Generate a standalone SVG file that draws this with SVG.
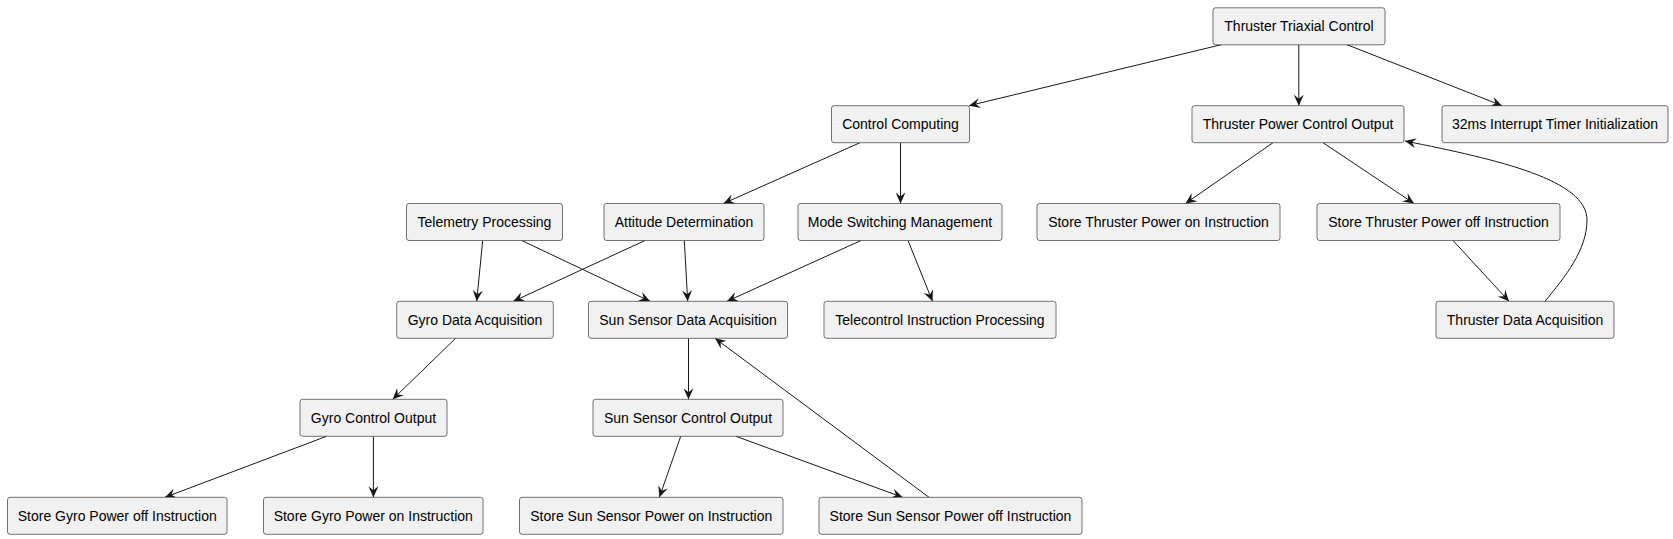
<svg xmlns="http://www.w3.org/2000/svg" width="1673" height="539" viewBox="0 0 1673 539">
<defs>
<style>
.n rect{fill:#F1F1F1;stroke:#181818;stroke-width:0.6}
.n text{font-family:"Liberation Sans",Arial,sans-serif;font-size:14px;fill:#000;text-anchor:middle}
.e path{fill:none;stroke:#181818;stroke-width:1;marker-end:url(#ah)}
</style>
<marker id="ah" viewBox="0 0 11 10" refX="11" refY="5" markerWidth="11" markerHeight="10" markerUnits="userSpaceOnUse" orient="auto">
<path d="M0,0 L11,5 L0,10 L4,5 Z" fill="#181818"/>
</marker>
</defs>
<rect width="1673" height="539" fill="#FFFFFF"/>
<g class="e" id="connectors">
<path d="M1222,44.5 L969,105.7"/>
<path d="M1298.8,44.5 L1298.8,105.7"/>
<path d="M1346.5,44.5 L1502,105.7"/>
<path d="M860,142.7 L723.5,203.5"/>
<path d="M900.5,142.7 L900.5,203.5"/>
<path d="M1273,142.7 L1185.5,203.5"/>
<path d="M1323,142.7 L1414,203.5"/>
<path d="M1453,240.5 L1509,301.3"/>
<path d="M1545,301.3 C1565,277 1587,250 1587,220 C1587,180 1500,160 1405,141"/>
<path d="M482.7,240.5 L476.7,301.3"/>
<path d="M521.7,240.5 L650,301.3"/>
<path d="M645,240.5 L513.3,301.3"/>
<path d="M684.3,240.5 L687.7,301.3"/>
<path d="M861,240.5 L727,301.3"/>
<path d="M908,240.5 L932.5,301.3"/>
<path d="M455.6,338.3 L392.7,399.3"/>
<path d="M688.5,338.3 L688.5,399.3"/>
<path d="M929,497.3 L715,338.3"/>
<path d="M326.5,436.3 L165,497.3"/>
<path d="M373.4,436.3 L373.4,497.3"/>
<path d="M680.7,436.3 L659.4,497.3"/>
<path d="M736,436.3 L902.6,497.3"/>
</g>
<g class="n" id="thruster-triaxial-control"><rect x="1213" y="7.8" width="172" height="37" rx="2.5"/><text x="1299" y="31">Thruster Triaxial Control</text></g>
<g class="n" id="control-computing"><rect x="831.5" y="105.7" width="138" height="37" rx="2.5"/><text x="900.5" y="129">Control Computing</text></g>
<g class="n" id="thruster-power-control-output"><rect x="1192" y="105.7" width="212" height="37" rx="2.5"/><text x="1298" y="129">Thruster Power Control Output</text></g>
<g class="n" id="timer-init"><rect x="1442" y="105.7" width="226" height="37" rx="2.5"/><text x="1555" y="129">32ms Interrupt Timer Initialization</text></g>
<g class="n" id="telemetry-processing"><rect x="406.5" y="203.5" width="156" height="37" rx="2.5"/><text x="484.5" y="227">Telemetry Processing</text></g>
<g class="n" id="attitude-determination"><rect x="604" y="203.5" width="160" height="37" rx="2.5"/><text x="684" y="227">Attitude Determination</text></g>
<g class="n" id="mode-switching"><rect x="798" y="203.5" width="204" height="37" rx="2.5"/><text x="900" y="227">Mode Switching Management</text></g>
<g class="n" id="store-thruster-on"><rect x="1037" y="203.5" width="243" height="37" rx="2.5"/><text x="1158.5" y="227">Store Thruster Power on Instruction</text></g>
<g class="n" id="store-thruster-off"><rect x="1317" y="203.5" width="243" height="37" rx="2.5"/><text x="1438.5" y="227">Store Thruster Power off Instruction</text></g>
<g class="n" id="gyro-data-acq"><rect x="396.7" y="301.3" width="156.6" height="37" rx="2.5"/><text x="475" y="325">Gyro Data Acquisition</text></g>
<g class="n" id="sun-data-acq"><rect x="588.5" y="301.3" width="199" height="37" rx="2.5"/><text x="688" y="325">Sun Sensor Data Acquisition</text></g>
<g class="n" id="telecontrol"><rect x="824" y="301.3" width="232" height="37" rx="2.5"/><text x="940" y="325">Telecontrol Instruction Processing</text></g>
<g class="n" id="thruster-data-acq"><rect x="1436" y="301.3" width="178" height="37" rx="2.5"/><text x="1525" y="325">Thruster Data Acquisition</text></g>
<g class="n" id="gyro-control-output"><rect x="300" y="399.3" width="147" height="37" rx="2.5"/><text x="373.5" y="423">Gyro Control Output</text></g>
<g class="n" id="sun-control-output"><rect x="593" y="399.3" width="190" height="37" rx="2.5"/><text x="688" y="423">Sun Sensor Control Output</text></g>
<g class="n" id="store-gyro-off"><rect x="7.5" y="497.3" width="219.5" height="37" rx="2.5"/><text x="117.25" y="521">Store Gyro Power off Instruction</text></g>
<g class="n" id="store-gyro-on"><rect x="263.5" y="497.3" width="219.5" height="37" rx="2.5"/><text x="373.25" y="521">Store Gyro Power on Instruction</text></g>
<g class="n" id="store-sun-on"><rect x="519.5" y="497.3" width="263.5" height="37" rx="2.5"/><text x="651.25" y="521">Store Sun Sensor Power on Instruction</text></g>
<g class="n" id="store-sun-off"><rect x="819" y="497.3" width="263" height="37" rx="2.5"/><text x="950.5" y="521">Store Sun Sensor Power off Instruction</text></g>
</svg>
